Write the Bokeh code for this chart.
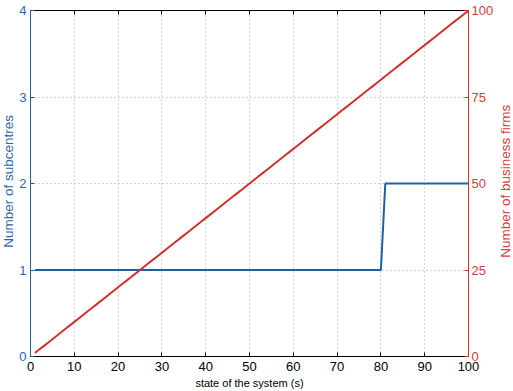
import math
from bokeh.plotting import figure
from bokeh.models import Range1d, LinearAxis, FixedTicker
from bokeh.core.properties import value
from bokeh.layouts import row
from bokeh.embed import file_html
from bokeh.resources import INLINE

# Data
state = list(range(1, 101))
subcentres = [1] * 80 + [2] * 20
firms = list(range(1, 101))

x_ticks = [0, 10, 20, 30, 40, 50, 60, 70, 80, 90, 100]
left_ticks = [0, 1, 2, 3, 4]
right_ticks = [0, 25, 50, 75, 100]

left_title = "Number of subcentres"
right_title = "Number of business firms"
x_title = "state of the system (s)"

BLUE = "#1f5fa6"
BLUE_TXT = "#2f66a8"
RED = "#d0302e"
RED_TXT = "#d04040"
FONT = "Liberation Sans"

H = 391
LW = 16   # left title strip
RW = 17   # right title strip

p = figure(width=513 - LW - RW, height=H, output_backend="svg", toolbar_location=None,
           x_range=Range1d(0, 100), y_range=Range1d(0, 4),
           min_border_left=28 - LW, min_border_right=28, min_border_top=10, min_border_bottom=0,
           y_axis_location=None, x_axis_location=None)
p.extra_y_ranges = {"right": Range1d(0, 100)}
p.outline_line_color = "black"
p.outline_line_width = 1
p.background_fill_color = "white"
p.border_fill_color = "white"

# bottom axis
xb = LinearAxis(ticker=FixedTicker(ticks=x_ticks), axis_label=x_title)
xb.axis_line_color = "black"
xb.major_tick_line_color = "black"
xb.major_tick_in = 4
xb.major_tick_out = 0
xb.minor_tick_line_color = None
xb.major_label_text_font = FONT
xb.major_label_text_font_size = "13px"
xb.major_label_text_color = "black"
xb.major_label_standoff = 5
xb.axis_label_text_font = FONT
xb.axis_label_text_font_size = "11px"
xb.axis_label_text_font_style = "normal"
xb.axis_label_text_color = "black"
xb.axis_label_standoff = 3
p.add_layout(xb, "below")

# top axis (ticks only)
xt = LinearAxis(ticker=FixedTicker(ticks=x_ticks))
xt.axis_line_color = "black"
xt.major_tick_line_color = "black"
xt.major_tick_in = 4
xt.major_tick_out = 0
xt.minor_tick_line_color = None
xt.major_label_text_font_size = "0px"
xt.major_label_text_alpha = 0
p.add_layout(xt, "above")

# left axis
yl = LinearAxis(ticker=FixedTicker(ticks=left_ticks))
yl.axis_line_color = BLUE
yl.major_tick_line_color = BLUE
yl.major_tick_in = 4
yl.major_tick_out = 0
yl.minor_tick_line_color = None
yl.major_label_text_font = FONT
yl.major_label_text_font_size = "13px"
yl.major_label_text_color = BLUE_TXT
yl.major_label_standoff = 4
p.add_layout(yl, "left")

# right axis
yr = LinearAxis(y_range_name="right", ticker=FixedTicker(ticks=right_ticks))
yr.axis_line_color = RED
yr.major_tick_line_color = RED
yr.major_tick_in = 4
yr.major_tick_out = 0
yr.minor_tick_line_color = None
yr.major_label_text_font = FONT
yr.major_label_text_font_size = "13px"
yr.major_label_text_color = RED_TXT
yr.major_label_standoff = 3
p.add_layout(yr, "right")

# grids
p.xgrid.ticker = FixedTicker(ticks=x_ticks)
p.ygrid.ticker = FixedTicker(ticks=left_ticks)
for g in (p.xgrid, p.ygrid):
    g.grid_line_color = "#a8a8a8"
    g.grid_line_dash = "1 3"
    g.grid_line_width = 1

p.line(state, subcentres, line_color=BLUE, line_width=2)
p.line(state, firms, line_color=RED, line_width=2, y_range_name="right")


def title_strip(width, text, color, cx):
    f = figure(width=width, height=H, output_backend="svg", toolbar_location=None,
               x_range=Range1d(0, width), y_range=Range1d(0, H),
               min_border=0, x_axis_location=None, y_axis_location=None)
    f.outline_line_color = None
    f.xgrid.visible = False
    f.ygrid.visible = False
    f.background_fill_color = "white"
    f.border_fill_color = "white"
    f.text(x=[cx], y=[H - 193], text=[text], angle=math.pi / 2,
           text_align="center", text_baseline="middle",
           text_font=value(FONT), text_font_size=value("13.5px"), text_color=color)
    return f


lf = title_strip(LW, left_title, BLUE_TXT, 8)
rf = title_strip(RW, right_title, RED_TXT, 9)

layout = row(lf, p, rf, spacing=0)
open("out.html", "w").write(file_html(layout, INLINE))
